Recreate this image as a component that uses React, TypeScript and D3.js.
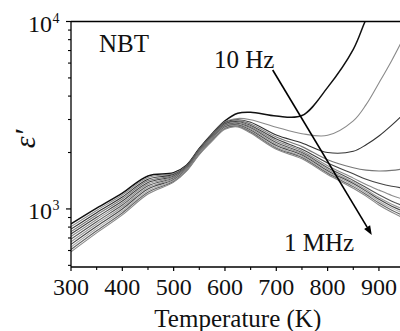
import React from "react";
import * as d3 from "d3";

// Temperature grid (K)
const temps = [300, 350, 400, 450, 500, 525, 550, 575, 600, 625, 650, 700, 750, 800, 850, 875, 900, 925, 950];

// Dielectric permittivity, from 10 Hz (top) to 1 MHz (bottom)
const eps01 = [832, 1010, 1215, 1500, 1560, 1710, 2100, 2520, 2950, 3240, 3280, 3130, 3150, 4450, 7100, 10300, 14000, 19000, 25000];
const eps02 = [805, 982, 1186, 1470, 1543, 1699, 2086, 2500, 2920, 3040, 2990, 2730, 2520, 2470, 2950, 3600, 4700, 6200, 8400];
const eps03 = [780, 955, 1157, 1441, 1527, 1688, 2072, 2480, 2890, 2990, 2900, 2480, 2250, 2000, 2030, 2200, 2450, 2800, 3250];
const eps04 = [757, 929, 1129, 1412, 1511, 1677, 2058, 2460, 2865, 2950, 2840, 2420, 2150, 1830, 1660, 1610, 1595, 1605, 1640];
const eps05 = [735, 903, 1102, 1384, 1495, 1666, 2044, 2440, 2840, 2920, 2790, 2360, 2080, 1760, 1540, 1440, 1370, 1320, 1290];
const eps06 = [713, 879, 1075, 1357, 1479, 1655, 2030, 2420, 2815, 2890, 2750, 2310, 2040, 1700, 1460, 1350, 1260, 1180, 1120];
const eps07 = [690, 855, 1049, 1330, 1463, 1644, 2017, 2400, 2790, 2860, 2710, 2260, 2000, 1660, 1420, 1300, 1190, 1100, 1030];
const eps08 = [668, 831, 1024, 1303, 1447, 1633, 2003, 2380, 2765, 2830, 2670, 2220, 1970, 1630, 1390, 1270, 1150, 1060, 990];
const eps09 = [647, 808, 999, 1278, 1432, 1622, 1990, 2360, 2740, 2800, 2630, 2180, 1940, 1600, 1365, 1245, 1125, 1035, 965];
const eps10 = [627, 786, 975, 1252, 1417, 1612, 1977, 2340, 2715, 2780, 2600, 2140, 1910, 1575, 1340, 1220, 1100, 1010, 940];
const eps11 = [608, 765, 952, 1228, 1402, 1601, 1963, 2320, 2690, 2760, 2570, 2110, 1880, 1550, 1315, 1195, 1075, 985, 915];
const eps12 = [590, 745, 929, 1200, 1390, 1590, 1950, 2300, 2660, 2740, 2540, 2080, 1850, 1525, 1290, 1170, 1050, 960, 890];

const seriesList = [eps01, eps02, eps03, eps04, eps05, eps06, eps07, eps08, eps09, eps10, eps11, eps12];
const seriesColors = ["#111", "#8a8a8a", "#333", "#777", "#444", "#8c8c8c", "#555", "#999", "#4a4a4a", "#aaa", "#666", "#888"];

const xTicks = [300, 400, 500, 600, 700, 800, 900];
const xMinorTicks = [350, 450, 550, 650, 750, 850];
const yMajorTicks = [1000, 10000];
const yMajorExp = ["3", "4"];
const yMinorTicks = [500, 600, 700, 800, 900, 2000, 3000, 4000, 5000, 6000, 7000, 8000, 9000];

// Arrow annotation (data coords): from 10 Hz label towards 1 MHz label
const arrowStart = [693, 5510];
const arrowEnd = [886, 727];

const W = 400, H = 331;
const L = 71, R = 404.6, T = 21.5, B = 267;
const txt: React.CSSProperties = { fontFamily: '"Liberation Serif", "Times New Roman", serif' };

export default function App() {
  const x = d3.scaleLinear().domain([300, 950]).range([L, R]);
  const y = d3.scaleLog().domain([490, 10000]).range([B, T]);
  const line = d3
    .line<number>()
    .x((_, i) => x(temps[i]))
    .y((d) => y(d))
    .curve(d3.curveCatmullRom.alpha(0.5));

  const ax1 = x(arrowStart[0]), ay1 = y(arrowStart[1]);
  const ax2 = x(arrowEnd[0]), ay2 = y(arrowEnd[1]);
  const ang = Math.atan2(ay2 - ay1, ax2 - ax1);
  const hl = 9, hw = 3.5;
  const bx = ax2 - hl * Math.cos(ang), by = ay2 - hl * Math.sin(ang);
  const head = [
    [ax2, ay2],
    [bx + hw * Math.sin(ang), by - hw * Math.cos(ang)],
    [bx - hw * Math.sin(ang), by + hw * Math.cos(ang)],
  ];

  return (
    <svg
      width={W}
      height={H}
      style={{ position: "absolute", left: 0, top: 0, background: "#fff" }}
    >
      <defs>
        <clipPath id="plot">
          <rect x={L} y={T} width={R - L} height={B - T} />
        </clipPath>
      </defs>
      <rect x={0} y={0} width={W} height={H} fill="#fff" />

      <g clipPath="url(#plot)" fill="none">
        {seriesList.map((s, i) => (
          <path
            key={i}
            d={line(s) || ""}
            stroke={seriesColors[i]}
            strokeWidth={i === 0 ? 1.5 : 1.1}
          />
        ))}
      </g>

      {/* axes */}
      <line x1={L} y1={T} x2={L} y2={B} stroke="#000" strokeWidth={1.3} />
      <line x1={L} y1={B} x2={R} y2={B} stroke="#000" strokeWidth={1.3} />
      <line x1={L} y1={T} x2={R} y2={T} stroke="#000" strokeWidth={1.3} />

      {xTicks.map((t) => (
        <g key={t}>
          <line x1={x(t)} y1={B} x2={x(t)} y2={B + 4} stroke="#000" strokeWidth={1.2} />
          <text x={x(t)} y={295} fontSize={24} textAnchor="middle" fill="#111" style={txt}>
            {t}
          </text>
        </g>
      ))}
      {xMinorTicks.map((t) => (
        <line key={t} x1={x(t)} y1={B} x2={x(t)} y2={B + 3} stroke="#000" strokeWidth={1.1} />
      ))}

      {yMajorTicks.map((t, i) => (
        <g key={t}>
          <line x1={L - 5} y1={y(t)} x2={L} y2={y(t)} stroke="#000" strokeWidth={1.2} />
          <text x={52} y={y(t) + 10.5} fontSize={24} textAnchor="end" fill="#111" style={txt}>
            10
          </text>
          <text x={52.5} y={y(t) + 1.5} fontSize={14} fill="#111" style={txt}>
            {yMajorExp[i]}
          </text>
        </g>
      ))}
      {yMinorTicks.map((t) => (
        <line key={t} x1={L - 3} y1={y(t)} x2={L} y2={y(t)} stroke="#000" strokeWidth={1.1} />
      ))}

      {/* axis titles */}
      <text x={(L + R) / 2} y={327} fontSize={25} textAnchor="middle" fill="#111" style={txt}>
        Temperature (K)
      </text>
      <text
        transform="translate(35,139) rotate(-90)"
        fontSize={30}
        fontStyle="italic"
        textAnchor="middle"
        fill="#111"
        style={txt}
      >
        ε′
      </text>

      {/* annotations */}
      <text x={99} y={52} fontSize={25} fill="#111" style={txt}>
        NBT
      </text>
      <text x={214} y={68} fontSize={25} fill="#111" style={txt}>
        10 Hz
      </text>
      <text x={284} y={251} fontSize={25} fill="#111" style={txt}>
        1 MHz
      </text>
      <line x1={ax1} y1={ay1} x2={bx} y2={by} stroke="#000" strokeWidth={1.6} />
      <polygon points={head.map((p) => p.join(",")).join(" ")} fill="#000" />
    </svg>
  );
}
